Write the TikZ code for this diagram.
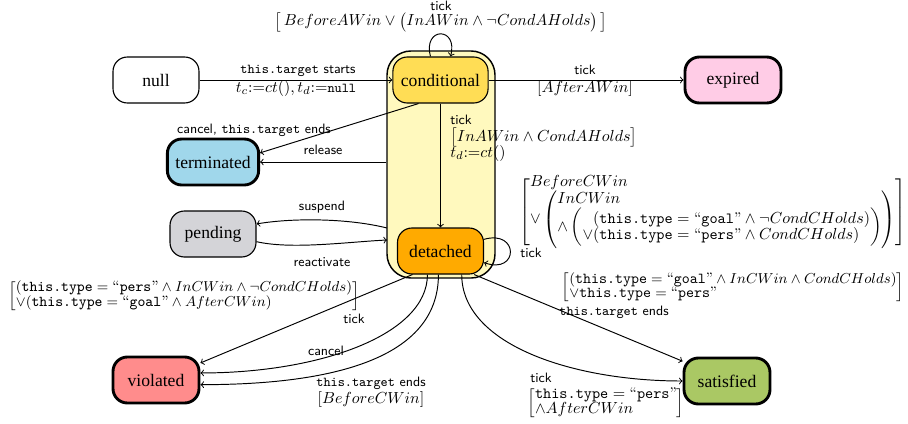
\documentclass[tikz,border=0pt]{standalone}
\usepackage{fontspec}
\newfontfamily\tms{Liberation Serif}
\usetikzlibrary{calc}
\renewcommand{\arraystretch}{0.85}
\newcommand\lb[1]{{\fontsize{8.5}{10}\selectfont\sffamily #1}}
\newcommand\tq[1]{\mbox{``\texttt{#1}''}}
\newcommand\tty{\texttt{this.type}}
\definecolor{ccond}{RGB}{255,221,85}
\definecolor{ccont}{RGB}{255,249,190}
\definecolor{cdet}{RGB}{255,170,0}
\definecolor{cexp}{RGB}{255,204,230}
\definecolor{cterm}{RGB}{160,215,235}
\definecolor{cpend}{RGB}{212,212,216}
\definecolor{cviol}{RGB}{255,140,140}
\definecolor{csat}{RGB}{170,200,100}
\begin{document}
\begin{tikzpicture}[x=0.625pt,y=-0.625pt,
  statebox/.style={draw, rounded corners=9pt, minimum width=53.75pt, minimum height=28.75pt,
    inner xsep=5pt, line width=0.7pt, font=\tms\fontsize{11}{13}\selectfont},
  finalbox/.style={statebox, line width=1.8pt},
  edge/.style={->, line width=0.6pt},
  lbl/.style={inner sep=0pt, font=\fontsize{9.7}{10}\selectfont},
]
\useasboundingbox (0,0) rectangle (908,424);
% container
\node[draw, fill=ccont, rounded corners=15pt, line width=0.9pt, minimum width=67.5pt, minimum height=141.9pt] (cont) at (441,164.5) {};
% states
\node[statebox] (null) at (156,80) {null};
\node[statebox, fill=ccond] (cond) at (440.5,80) {conditional};
\node[finalbox, fill=cexp, minimum width=60pt] (exp) at (733,80) {expired};
\node[finalbox, fill=cterm] (term) at (213,162) {terminated};
\node[statebox, fill=cpend] (pend) at (213,234) {pending};
\node[statebox, fill=cdet] (det) at (440.5,251) {detached};
\node[finalbox, fill=cviol] (viol) at (156,380) {violated};
\node[finalbox, fill=csat] (sat) at (727,381) {satisfied};
\coordinate (s1) at (387,228);
\coordinate (r1) at (387,240);
% edges
\draw[edge] (null) -- (cond);
\draw[edge] (cond) -- (exp);
\draw[edge] (cond.113) .. controls +(-8,-30) and +(8,-30) .. (cond.67);
\draw[edge] (cond.227) -- (term.11);
\draw[edge] (term.east -| cont.west) -- (term.east);
\draw[edge] (s1) .. controls +(-40,-10) and +(35,-6) .. (pend.13);
\draw[edge] (pend.-10) .. controls +(35,8) and +(-40,2) .. (r1);
\draw[edge] (cond) -- (det);
\draw[edge] (det.15) .. controls +(35,-10) and +(35,12) .. (det.-15);
\draw[edge] (det.220) -- (viol.21);
\draw[edge] (det.241) .. controls +(0,60) and +(120,0) .. (viol.9);
\draw[edge] (det.265) .. controls +(0,85) and +(130,0) .. (viol.-6);
\draw[edge] (det.-48) .. controls +(0,70) and +(-110,0) .. (sat.west);
\draw[edge] (det.-35) -- (sat.156);
% labels
\node[lbl] (l1) at (298,71) {\lb{\texttt{this.target} starts}};
\node[lbl] (l2) at (296,88) {$t_c{:=}ct(), t_d{:=}$\lb{\texttt{null}}};
\node[lbl] (l3) at (585,70) {\lb{tick}};
\node[lbl] (l4) at (585,88) {$[AfterAWin]$};
\node[lbl] (l5a) at (441,6) {\lb{tick}};
\node[lbl] (l5) at (441,22) {$\big[\,BeforeAWin\vee\big(InAWin\wedge\neg CondAHolds\big)\,\big]$};
\node[lbl] (l6) at (254,130) {\lb{cancel, \texttt{this.target} ends}};
\node[lbl] (l7) at (323,150) {\lb{release}};
\node[lbl, anchor=west] (l8a) at (450,120) {\lb{tick}};
\node[lbl, anchor=west] (l8b) at (450,137) {$\big[InAWin\wedge CondAHolds\big]$};
\node[lbl, anchor=west] (l8c) at (450,153) {$t_d{:=}ct()$};
\node[lbl] (l9) at (322,207) {\lb{suspend}};
\node[lbl] (l10) at (322,262) {\lb{reactivate}};
\node[lbl] (l11) at (713,212) {$\left[\begin{array}{@{}l@{}}BeforeCWin\\
  \vee\left(\begin{array}{@{}l@{}}InCWin\\
  \wedge\left(\begin{array}{@{}l@{}}\phantom{\vee}(\tty=\tq{goal}\wedge\neg CondCHolds)\\
  \vee(\tty=\tq{pers}\wedge CondCHolds)\end{array}\right)\end{array}\right)\end{array}\right]$};
\node[lbl] (l12) at (531,253) {\lb{tick}};
\node[lbl, font=\fontsize{9.4}{10}\selectfont] (l13) at (184,296) {$\left[\begin{array}{@{}l@{}}(\tty=\tq{pers}\wedge InCWin\wedge\neg CondCHolds)\\
  \vee(\tty=\tq{goal}\wedge AfterCWin)\end{array}\right]$};
\node[lbl] (l14) at (354,319) {\lb{tick}};
\node[lbl] (l15) at (326,351) {\lb{cancel}};
\node[lbl] (l16a) at (371,383) {\lb{\texttt{this.target} ends}};
\node[lbl] (l16b) at (371,399) {$[BeforeCWin]$};
\node[lbl, font=\fontsize{9.5}{10}\selectfont] (l17) at (733,287) {$\left[\begin{array}{@{}l@{}}(\tty=\tq{goal}\wedge InCWin\wedge CondCHolds)\\
  \vee\tty=\tq{pers}\end{array}\right]$};
\node[lbl] (l18) at (614,312) {\lb{\texttt{this.target} ends}};
\node[lbl] (l19) at (541,378) {\lb{tick}};
\node[lbl] (l20) at (606,403) {$\left[\begin{array}{@{}l@{}}\tty=\tq{pers}\\ \wedge AfterCWin\end{array}\right]$};
\end{tikzpicture}
\end{document}
